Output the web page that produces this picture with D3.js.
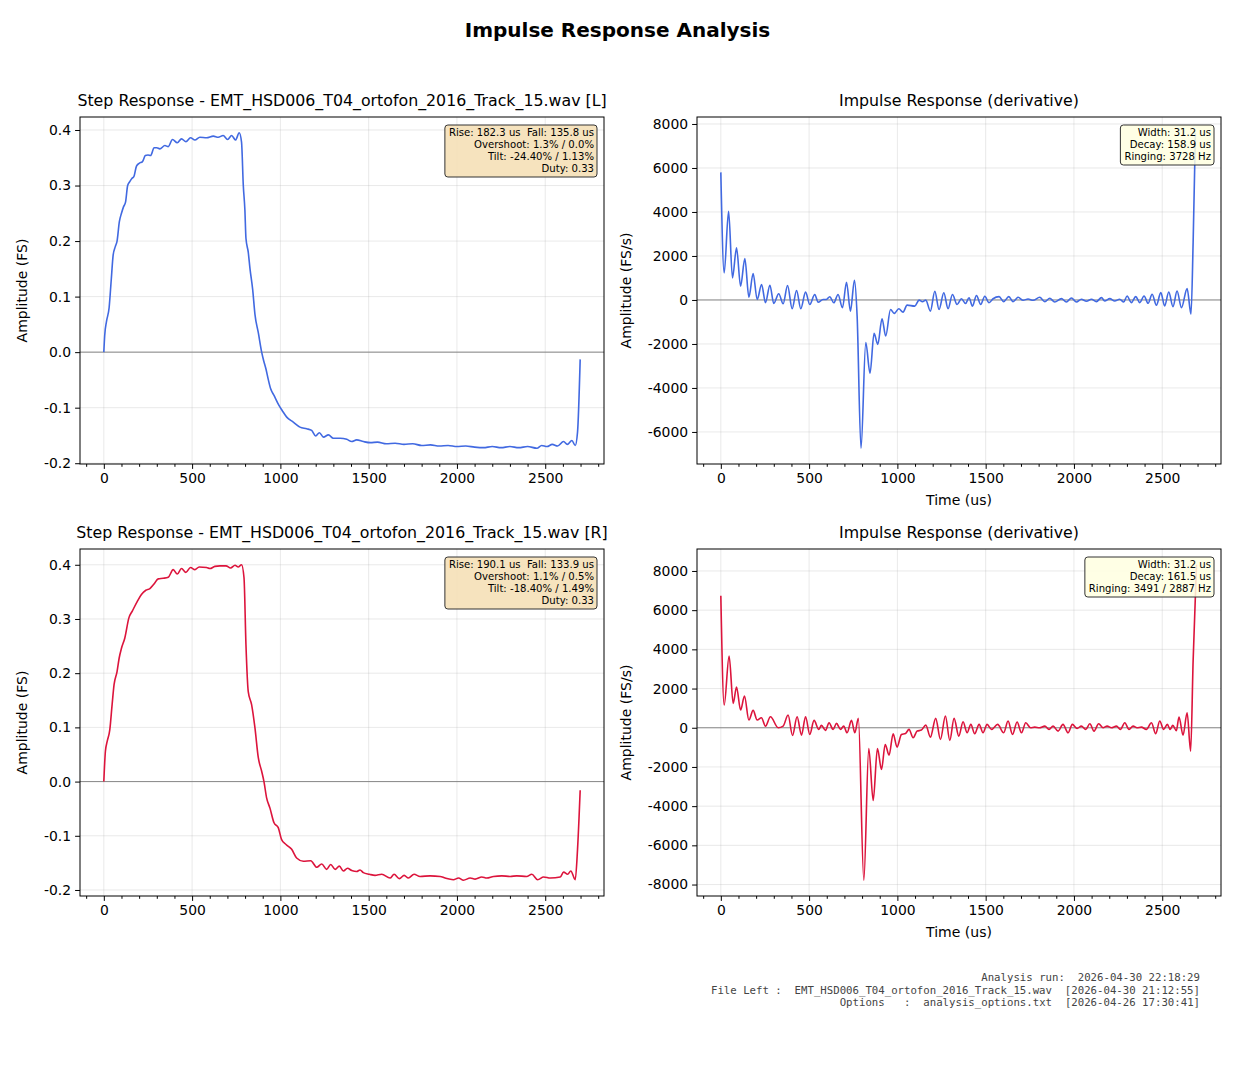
<!DOCTYPE html>
<html>
<head>
<meta charset="utf-8">
<script src="https://cdn.jsdelivr.net/npm/d3@7"></script>
<style>
  body { margin: 0; background: #fff; }
  text { font-family: "DejaVu Sans", sans-serif; }
</style>
</head>
<body>
<div id="chart"></div>
<script>
// step response, left channel  [time us, amplitude FS]
const stepLeft = [
  [0, 0], [5, 0.03], [15, 0.055], [30, 0.08], [42, 0.13], [53, 0.175], [65, 0.19], [75, 0.2],
  [88, 0.235], [100, 0.25], [112, 0.262], [123, 0.27], [135, 0.3], [147, 0.307], [160, 0.313],
  [170, 0.316], [185, 0.335], [200, 0.34], [219, 0.343], [235, 0.354], [250, 0.355], [265, 0.354],
  [285, 0.368], [300, 0.368], [317, 0.366], [346, 0.372], [365, 0.37], [389, 0.383], [416, 0.377],
  [440, 0.384], [465, 0.379], [491, 0.386], [516, 0.382], [544, 0.387], [582, 0.386], [620, 0.389],
  [648, 0.387], [676, 0.39], [701, 0.383], [724, 0.39], [746, 0.382], [767, 0.395], [780, 0.378],
  [790, 0.3], [799, 0.256], [805, 0.205], [818, 0.18], [828, 0.15], [843, 0.113], [856, 0.068],
  [875, 0.035], [894, 0], [905, -0.015], [918, -0.03], [932, -0.05], [945, -0.066], [964, -0.078],
  [992, -0.096], [1010, -0.105], [1036, -0.117], [1073, -0.126], [1111, -0.135], [1149, -0.138],
  [1177, -0.141], [1200, -0.151], [1221, -0.145], [1244, -0.153], [1272, -0.149], [1300, -0.155],
  [1338, -0.155], [1376, -0.157], [1404, -0.161], [1432, -0.158], [1470, -0.161], [1510, -0.163],
  [1550, -0.162], [1600, -0.165], [1650, -0.164], [1700, -0.166], [1750, -0.165], [1800, -0.168],
  [1850, -0.167], [1900, -0.169], [1950, -0.168], [2000, -0.17], [2050, -0.169], [2100, -0.171],
  [2150, -0.172], [2200, -0.17], [2250, -0.172], [2300, -0.17], [2350, -0.172], [2400, -0.17],
  [2453, -0.173], [2480, -0.168], [2510, -0.17], [2540, -0.166], [2570, -0.169], [2604, -0.161],
  [2625, -0.166], [2651, -0.159], [2670, -0.168], [2683, -0.144], [2698, -0.013]
];

// step response, right channel
const stepRight = [
  [0, 0], [9, 0.056], [19, 0.074], [34, 0.096], [47, 0.142], [58, 0.179], [75, 0.203], [87, 0.228],
  [100, 0.246], [119, 0.265], [142, 0.302], [162, 0.315], [189, 0.332], [213, 0.345], [238, 0.353],
  [261, 0.356], [283, 0.364], [308, 0.374], [336, 0.375], [365, 0.377], [393, 0.391], [416, 0.383],
  [440, 0.393], [465, 0.386], [491, 0.395], [516, 0.391], [540, 0.396], [582, 0.395], [601, 0.393],
  [629, 0.397], [658, 0.398], [692, 0.398], [718, 0.394], [743, 0.399], [761, 0.396], [780, 0.4],
  [794, 0.376], [805, 0.253], [818, 0.166], [837, 0.142], [856, 0.099], [875, 0.044], [894, 0.019],
  [907, 0], [922, -0.03], [941, -0.049], [964, -0.076], [988, -0.085], [1007, -0.107], [1032, -0.116],
  [1064, -0.125], [1092, -0.141], [1130, -0.147], [1172, -0.146], [1206, -0.158], [1234, -0.152],
  [1262, -0.162], [1285, -0.153], [1310, -0.162], [1334, -0.156], [1357, -0.165], [1380, -0.16],
  [1404, -0.164], [1432, -0.166], [1451, -0.163], [1470, -0.168], [1504, -0.171], [1536, -0.173],
  [1574, -0.171], [1621, -0.178], [1644, -0.171], [1674, -0.179], [1701, -0.173], [1725, -0.178],
  [1757, -0.171], [1791, -0.175], [1848, -0.174], [1905, -0.175], [1933, -0.178], [1980, -0.181],
  [2009, -0.178], [2037, -0.182], [2075, -0.178], [2103, -0.18], [2141, -0.176], [2169, -0.178],
  [2207, -0.175], [2254, -0.174], [2301, -0.175], [2339, -0.174], [2395, -0.175], [2424, -0.171],
  [2457, -0.181], [2491, -0.176], [2529, -0.178], [2585, -0.176], [2604, -0.167], [2627, -0.171],
  [2645, -0.165], [2670, -0.181], [2683, -0.125], [2698, -0.016]
];

// impulse response (derivative), left channel  [time us, FS/s]
const impulseLeft = [
  [0, 5800], [19, 1233], [44, 4025], [66, 1006], [89, 2366], [112, 626], [136, 1881], [159, 127],
  [183, 1201], [206, 23], [231, 703], [253, -127], [278, 671], [300, -159], [328, 281], [353, -172],
  [378, 657], [404, -399], [429, 431], [453, -399], [480, 354], [504, -204], [532, 249], [551, -100],
  [579, 23], [598, 23], [617, 145], [640, -127], [664, 249], [689, -354], [712, 807], [734, -508],
  [757, 898], [772, -734], [794, -6740], [821, -1940], [845, -3332], [868, -1519], [889, -2018],
  [913, -853], [934, -1641], [961, -431], [982, -612], [1008, -399], [1032, -553], [1055, -236],
  [1098, -281], [1123, -9], [1142, -82], [1161, -9], [1187, -508], [1212, 399], [1236, -431],
  [1263, 326], [1287, -399], [1312, 249], [1338, -204], [1363, 54], [1386, -159], [1406, 100],
  [1425, -281], [1448, 204], [1472, -204], [1495, 172], [1519, -127], [1542, 54], [1576, 151],
  [1602, -75], [1631, 151], [1655, -75], [1684, 121], [1712, -15], [1740, 45], [1769, -15],
  [1806, 121], [1835, -75], [1863, 75], [1891, -91], [1929, 60], [1957, -91], [1986, 91],
  [2014, -91], [2042, 30], [2071, -60], [2099, 30], [2127, -76], [2156, 106], [2174, -45],
  [2203, 60], [2231, -45], [2259, 30], [2282, -91], [2301, 181], [2325, -121], [2350, 151],
  [2373, -121], [2397, 181], [2420, -151], [2443, 257], [2467, -242], [2492, 332], [2514, -272],
  [2537, 363], [2561, -302], [2584, 408], [2609, -348], [2641, 514], [2663, -650], [2675, 2600],
  [2688, 7600]
];

// impulse response (derivative), right channel
const impulseRight = [
  [0, 6731], [19, 1159], [47, 3664], [70, 1244], [89, 2079], [112, 903], [134, 1619], [159, 392],
  [183, 886], [206, 392], [230, 511], [253, 85], [281, 562], [325, 0], [353, 85], [381, 647],
  [406, -392], [432, 562], [457, -375], [480, 562], [504, -341], [528, 375], [555, -85], [570, 119],
  [593, -136], [613, 256], [636, -85], [655, 222], [678, -85], [696, 85], [715, -256], [740, 375],
  [759, -256], [779, 477], [810, -7780], [838, -1056], [863, -3715], [887, -1056], [910, -2130],
  [931, -852], [953, -1397], [976, -307], [998, -988], [1023, -341], [1046, -290], [1066, -85],
  [1089, -511], [1112, -170], [1136, -119], [1161, 136], [1187, -477], [1217, 477], [1244, -596],
  [1272, 596], [1297, -647], [1321, 477], [1348, -426], [1372, 307], [1395, -256], [1416, 170],
  [1438, -307], [1463, 170], [1485, -256], [1508, 170], [1533, -85], [1568, 170], [1602, -256],
  [1627, 341], [1652, -341], [1678, 290], [1703, -256], [1727, 256], [1754, 0], [1778, 34],
  [1805, 0], [1835, 85], [1859, -85], [1882, 85], [1910, -170], [1938, 170], [1967, -256],
  [1991, 170], [2018, -34], [2042, 85], [2067, -85], [2090, 204], [2114, -170], [2140, 204],
  [2165, 0], [2188, 85], [2212, 0], [2241, 85], [2263, -85], [2288, 256], [2312, -85], [2335, 85],
  [2357, 0], [2382, 34], [2410, -85], [2439, 256], [2463, -307], [2486, 341], [2508, -85],
  [2529, 170], [2545, -85], [2560, 120], [2580, -150], [2595, 545], [2618, -375], [2641, 767],
  [2661, -1193], [2675, 3408], [2694, 8316]
];

const timeTicks = [0, 500, 1000, 1500, 2000, 2500];
const stepTicks = [-0.2, -0.1, 0.0, 0.1, 0.2, 0.3, 0.4];
const impulseTicksL = [-6000, -4000, -2000, 0, 2000, 4000, 6000, 8000];
const impulseTicksR = [-8000, -6000, -4000, -2000, 0, 2000, 4000, 6000, 8000];

const statsStepL = ["Rise: 182.3 us  Fall: 135.8 us", "Overshoot: 1.3% / 0.0%", "Tilt: -24.40% / 1.13%", "Duty: 0.33"];
const statsStepR = ["Rise: 190.1 us  Fall: 133.9 us", "Overshoot: 1.1% / 0.5%", "Tilt: -18.40% / 1.49%", "Duty: 0.33"];
const statsImpL = ["Width: 31.2 us", "Decay: 158.9 us", "Ringing: 3728 Hz"];
const statsImpR = ["Width: 31.2 us", "Decay: 161.5 us", "Ringing: 3491 / 2887 Hz"];

const footerLines = [
  "Analysis run:  2026-04-30 22:18:29",
  "File Left :  EMT_HSD006_T04_ortofon_2016_Track_15.wav  [2026-04-30 21:12:55]",
  "Options   :  analysis_options.txt  [2026-04-26 17:30:41]"
];

const W = 1237, H = 1080;
const svg = d3.select("#chart").append("svg").attr("width", W).attr("height", H);

svg.append("text")
  .attr("x", W / 2 - 1).attr("y", 36.5)
  .attr("text-anchor", "middle")
  .style("font-size", "20px").style("font-weight", "bold")
  .text("Impulse Response Analysis");

// shared time extent, matplotlib style 5% margins
const tMax = d3.max([stepLeft, stepRight, impulseLeft, impulseRight], (s) => d3.max(s, (d) => d[0]));
const tPad = tMax * 0.05;

function padded(series) {
  const lo = d3.min(series, (d) => d[1]), hi = d3.max(series, (d) => d[1]);
  const p = (hi - lo) * 0.05;
  return [lo - p, hi + p];
}

// ascii hyphen as minus, like the original
const locale = d3.formatLocale({ decimal: ".", thousands: ",", grouping: [3], currency: ["", ""], minus: "-" });

let clipId = 0;
function drawPanel(opt) {
  const { left, top, width, height } = opt;
  const g = svg.append("g").attr("transform", `translate(${left},${top})`);

  const x = d3.scaleLinear().domain([-tPad, tMax + tPad]).range([0, width]);
  const y = d3.scaleLinear().domain(padded(opt.data)).range([height, 0]);

  // grid
  g.append("g").selectAll("line").data(opt.yTicks).enter().append("line")
    .attr("x1", 0).attr("x2", width)
    .attr("y1", (d) => y(d)).attr("y2", (d) => y(d))
    .attr("stroke", "#b0b0b0").attr("stroke-opacity", 0.35).attr("stroke-width", 0.8);
  g.append("g").selectAll("line").data(timeTicks).enter().append("line")
    .attr("y1", 0).attr("y2", height)
    .attr("x1", (d) => x(d)).attr("x2", (d) => x(d))
    .attr("stroke", "#b0b0b0").attr("stroke-opacity", 0.35).attr("stroke-width", 0.8);

  // zero line
  g.append("line")
    .attr("x1", 0).attr("x2", width)
    .attr("y1", y(0)).attr("y2", y(0))
    .attr("stroke", "#888").attr("stroke-width", 1);

  const id = "clip" + clipId++;
  g.append("clipPath").attr("id", id).append("rect").attr("width", width).attr("height", height);

  const line = d3.line().x((d) => x(d[0])).y((d) => y(d[1])).curve(d3.curveMonotoneX);
  g.append("path")
    .datum(opt.data)
    .attr("clip-path", `url(#${id})`)
    .attr("fill", "none")
    .attr("stroke", opt.color)
    .attr("stroke-width", 1.6)
    .attr("stroke-linejoin", "round")
    .attr("d", line);

  // axes
  const minor = d3.range(-100, tMax + tPad, 100).filter((d) => d % 500 !== 0);
  g.append("g")
    .attr("transform", `translate(0,${height})`)
    .call(d3.axisBottom(x).tickValues(minor).tickSize(2.8).tickFormat(""))
    .call((a) => a.select(".domain").remove());
  const xa = g.append("g")
    .attr("transform", `translate(0,${height})`)
    .call(d3.axisBottom(x).tickValues(timeTicks).tickSize(4.9).tickPadding(4).tickFormat(locale.format("d")));
  xa.select(".domain").remove();
  xa.selectAll("text").style("font-size", "13.9px").attr("fill", "#000");

  const ya = g.append("g")
    .call(d3.axisLeft(y).tickValues(opt.yTicks).tickSize(4.9).tickPadding(4).tickFormat(locale.format(opt.yFormat)));
  ya.select(".domain").remove();
  ya.selectAll("text").style("font-size", "13.9px").attr("fill", "#000");
  svg.selectAll(".tick line").attr("stroke-width", 1);

  // frame
  g.append("rect")
    .attr("width", width).attr("height", height)
    .attr("fill", "none").attr("stroke", "#000").attr("stroke-width", 1);

  // titles and labels
  g.append("text")
    .attr("x", width / 2).attr("y", -11)
    .attr("text-anchor", "middle")
    .style("font-size", "15.8px")
    .text(opt.title);
  g.append("text")
    .attr("transform", `translate(${opt.yLabelX},${height / 2}) rotate(-90)`)
    .attr("text-anchor", "middle")
    .style("font-size", "14px")
    .text(opt.yLabel);
  if (opt.xLabel) {
    g.append("text")
      .attr("x", width / 2).attr("y", height + 41)
      .attr("text-anchor", "middle")
      .style("font-size", "14px")
      .text(opt.xLabel);
  }

  // stats box in the upper right corner
  const box = g.append("g");
  const texts = box.selectAll("text").data(opt.stats).enter().append("text")
    .attr("x", width - 10)
    .attr("y", (d, i) => 18.5 + i * 12)
    .attr("text-anchor", "end")
    .attr("xml:space", "preserve")
    .style("white-space", "pre")
    .style("font-size", "10.1px")
    .text((d) => d);
  let tw = 0;
  texts.each(function () { tw = Math.max(tw, this.getComputedTextLength()); });
  box.insert("rect", "text")
    .attr("x", width - 7 - tw - 7).attr("y", 8)
    .attr("width", tw + 7).attr("height", opt.stats.length * 12 + 4)
    .attr("rx", 3).attr("ry", 3)
    .attr("fill", opt.boxFill).attr("fill-opacity", 0.85)
    .attr("stroke", "#333").attr("stroke-width", 1);
}

drawPanel({
  left: 80, top: 117, width: 524, height: 347,
  data: stepLeft, color: "#4169e1", yTicks: stepTicks, yFormat: ".1f",
  title: "Step Response - EMT_HSD006_T04_ortofon_2016_Track_15.wav [L]",
  yLabel: "Amplitude (FS)", yLabelX: -53, stats: statsStepL, boxFill: "#f5deb3"
});
drawPanel({
  left: 697, top: 117, width: 524, height: 347,
  data: impulseLeft, color: "#4169e1", yTicks: impulseTicksL, yFormat: "d",
  title: "Impulse Response (derivative)", xLabel: "Time (us)",
  yLabel: "Amplitude (FS/s)", yLabelX: -66, stats: statsImpL, boxFill: "#ffffe0"
});
drawPanel({
  left: 80, top: 549, width: 524, height: 347,
  data: stepRight, color: "#dc143c", yTicks: stepTicks, yFormat: ".1f",
  title: "Step Response - EMT_HSD006_T04_ortofon_2016_Track_15.wav [R]",
  yLabel: "Amplitude (FS)", yLabelX: -53, stats: statsStepR, boxFill: "#f5deb3"
});
drawPanel({
  left: 697, top: 549, width: 524, height: 347,
  data: impulseRight, color: "#dc143c", yTicks: impulseTicksR, yFormat: "d",
  title: "Impulse Response (derivative)", xLabel: "Time (us)",
  yLabel: "Amplitude (FS/s)", yLabelX: -66, stats: statsImpR, boxFill: "#ffffe0"
});

// footer
svg.append("g").selectAll("text").data(footerLines).enter().append("text")
  .attr("x", 1200)
  .attr("y", (d, i) => 981 + i * 12.5)
  .attr("text-anchor", "end")
  .attr("xml:space", "preserve")
  .style("white-space", "pre")
  .style("font-family", "'DejaVu Sans Mono', monospace")
  .style("font-size", "10.7px")
  .attr("fill", "#444")
  .text((d) => d);
</script>
</body>
</html>
